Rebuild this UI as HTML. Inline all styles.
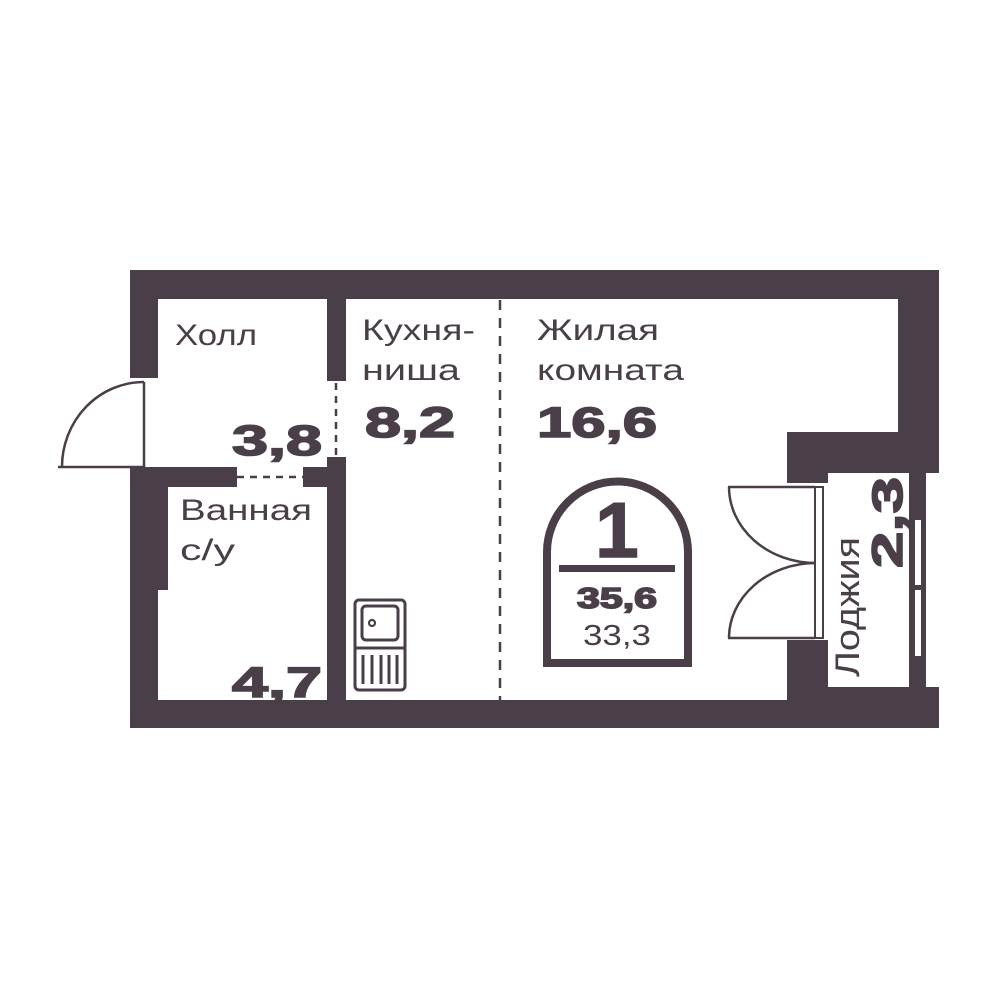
<!DOCTYPE html>
<html><head><meta charset="utf-8"><style>
html,body{margin:0;padding:0;background:#fff;}
svg{display:block;}
text{font-family:"Liberation Sans",sans-serif;fill:#4a3f49;}
.b{stroke:#4a3f49;stroke-width:1.6;}
</style></head><body>
<svg width="1000" height="1000" viewBox="0 0 1000 1000" xmlns="http://www.w3.org/2000/svg">
<g fill="#4a3f49">
<rect x="130" y="270" width="809" height="29"/>
<rect x="130" y="270" width="28" height="108"/>
<rect x="130" y="467" width="38" height="123"/>
<rect x="130" y="467" width="28" height="261"/>
<rect x="130" y="700" width="809" height="28"/>
<rect x="787" y="687" width="152" height="41"/>
<rect x="158" y="467" width="79" height="20"/>
<rect x="303" y="467" width="43" height="20"/>
<rect x="327" y="298" width="19" height="83"/>
<rect x="327" y="457" width="19" height="243"/>
<rect x="898" y="270" width="41" height="203"/>
<rect x="787" y="432" width="152" height="41"/>
<rect x="787" y="432" width="41" height="51"/>
<rect x="787" y="640" width="41" height="60"/>
<rect x="909" y="473" width="17" height="215"/>
</g>
<rect x="915" y="520" width="6" height="65" fill="#fff"/>
<rect x="915" y="590" width="6" height="66" fill="#fff"/>
<g fill="none" stroke="#4a3f49" stroke-width="2.5">
<line x1="144" y1="382" x2="144" y2="467"/>
<line x1="58" y1="467" x2="144" y2="467"/>
<path d="M62 467 A82 85 0 0 1 144 382"/>
<line x1="237" y1="477" x2="303" y2="477" stroke-dasharray="7 6"/>
<line x1="336" y1="383" x2="336" y2="457" stroke-dasharray="7 6"/>
<line x1="500" y1="300" x2="500" y2="700" stroke-dasharray="10 8"/>
<rect x="815" y="487" width="8" height="151" stroke-width="2"/>
<line x1="728" y1="487" x2="815" y2="487"/>
<line x1="728" y1="638" x2="815" y2="638"/>
<path d="M729 487 A87 76 0 0 0 815 563"/>
<path d="M729 638 A87 75 0 0 1 815 563"/>
<g stroke-width="3">
<rect x="355" y="600" width="50" height="90" rx="4"/>
<rect x="362" y="606" width="36" height="34" rx="4"/>
<circle cx="372" cy="623" r="3" stroke-width="2.2"/>
<line x1="355" y1="648" x2="405" y2="648"/>
<line x1="363" y1="655" x2="363" y2="684"/>
<line x1="372" y1="655" x2="372" y2="684"/>
<line x1="381" y1="655" x2="381" y2="684"/>
<line x1="389" y1="655" x2="389" y2="684"/>
<line x1="397" y1="655" x2="397" y2="684"/>
</g>
<path d="M547 663 L547 552 A70 70 0 0 1 688 552 L688 663 Z" stroke-width="8"/>
</g>
<rect x="559" y="565" width="116" height="7" fill="#4a3f49"/>
<text x="617" y="557" font-size="78" font-weight="bold" text-anchor="middle" class="b">1</text>
<text x="617" y="608" font-size="29" font-weight="bold" text-anchor="middle" textLength="80" lengthAdjust="spacingAndGlyphs" class="b">35,6</text>
<text x="617" y="645" font-size="29" text-anchor="middle" textLength="68" lengthAdjust="spacingAndGlyphs">33,3</text>
<text x="175" y="345" font-size="30" textLength="82" lengthAdjust="spacingAndGlyphs">Холл</text>
<text x="362" y="340" font-size="30" textLength="113" lengthAdjust="spacingAndGlyphs">Кухня-</text>
<text x="362" y="380" font-size="30" textLength="98" lengthAdjust="spacingAndGlyphs">ниша</text>
<text x="537" y="340" font-size="30" textLength="122" lengthAdjust="spacingAndGlyphs">Жилая</text>
<text x="537" y="380" font-size="30" textLength="147" lengthAdjust="spacingAndGlyphs">комната</text>
<text x="365" y="437" font-size="43" font-weight="bold" textLength="90" lengthAdjust="spacingAndGlyphs" class="b">8,2</text>
<text x="537" y="437" font-size="43" font-weight="bold" textLength="120" lengthAdjust="spacingAndGlyphs" class="b">16,6</text>
<text x="232" y="455" font-size="43" font-weight="bold" textLength="90" lengthAdjust="spacingAndGlyphs" class="b">3,8</text>
<text x="180" y="520" font-size="30" textLength="132" lengthAdjust="spacingAndGlyphs">Ванная</text>
<text x="180" y="560" font-size="30" textLength="55" lengthAdjust="spacingAndGlyphs">с/у</text>
<text x="232" y="697" font-size="43" font-weight="bold" textLength="90" lengthAdjust="spacingAndGlyphs" class="b">4,7</text>
<text transform="translate(859,677) rotate(-90)" font-size="34" textLength="140" lengthAdjust="spacingAndGlyphs">Лоджия</text>
<text transform="translate(902,568) rotate(-90)" font-size="43" font-weight="bold" textLength="91" lengthAdjust="spacingAndGlyphs" class="b">2,3</text>
</svg>
</body></html>
